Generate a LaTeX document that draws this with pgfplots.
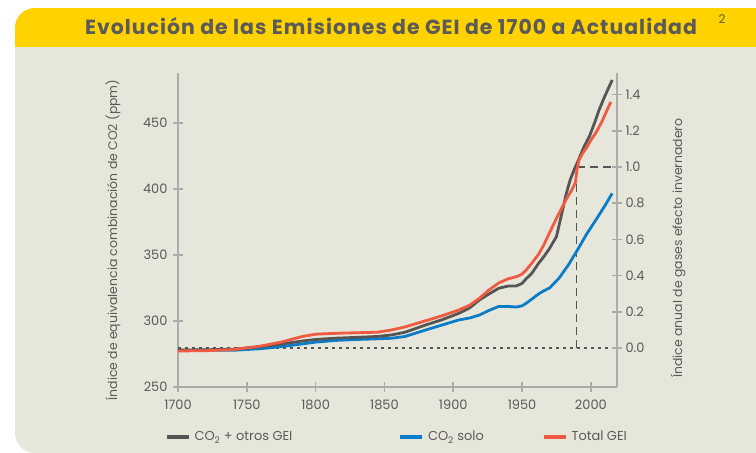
\documentclass[border=0pt]{standalone}
\usepackage{fontspec}
\setmainfont{Poppins}
\newfontfamily\titlefont[LetterSpace=5]{Poppins}
\usepackage{pgfplots}
\pgfplotsset{compat=1.18}
\definecolor{hdr}{HTML}{FFD200}
\definecolor{panel}{HTML}{E7E6DB}
\definecolor{axgray}{HTML}{ABABAB}
\definecolor{txtgray}{HTML}{5A5A5A}
\definecolor{cgray}{HTML}{555555}
\definecolor{cblue}{HTML}{0B7DC8}
\definecolor{cred}{HTML}{EF5A40}
\begin{document}
\begin{tikzpicture}[x=1bp,y=1bp]
\useasboundingbox (0,0) rectangle (756,453);
\begin{scope}
\clip (0,0) rectangle (756,453);
\fill[white] (0,0) rectangle (756,453);
\fill[panel, rounded corners=20bp] (15,0) rectangle (800,445);
\begin{scope}
\clip[rounded corners=20bp] (15,0) rectangle (800,445);
\fill[hdr] (0,406) rectangle (800,445);
\end{scope}
\end{scope}
\node[font=\titlefont\bfseries\fontsize{20.5}{23}\selectfont, text=txtgray] at (391,427) {Evolución de las Emisiones de GEI de 1700 a Actualidad};
\node[font=\fontsize{12}{14}\selectfont, text=txtgray] at (722,434) {2};
\node[rotate=90, font=\fontsize{12.5}{14}\selectfont, text=txtgray] at (113,213) {Índice de equivalencia combinación de CO2 (ppm)};
\node[rotate=90, font=\fontsize{12.5}{14}\selectfont, text=txtgray] at (678,205) {Índice anual de gases efecto invernadero};

\begin{axis}[
  at={(178bp,66bp)}, anchor=south west, scale only axis,
  width=439bp, height=314bp,
  xmin=1700, xmax=2019, ymin=250, ymax=487.9,
  axis x line=bottom, axis y line=left,
  axis line style={-, axgray, line width=1.5bp},
  xtick={1700,1750,1800,1850,1900,1950,2000},
  ytick={250,300,350,400,450},
  tick style={axgray, line width=1.5bp}, major tick length=10bp, tick align=center,
  tick label style={font=\fontsize{13}{15}\selectfont, text=txtgray},
  /pgf/number format/assume math mode=true,
  xticklabel style={/pgf/number format/1000 sep={}, yshift=-4bp},
  yticklabel style={xshift=-2bp},
  clip=false,
  legend columns=3,
  legend style={at={(-0.03,-0.159)}, anchor=west, draw=none, fill=none,
    inner sep=0pt, font=\fontsize{13}{15}\selectfont, text=txtgray,
    nodes={inner xsep=4bp, inner ysep=1bp}},
  legend image code/.code={\draw[#1, line width=3.5bp] (0bp,0bp) -- (22bp,0bp);},
]
\addlegendimage{cgray}
\addlegendentry{\makebox[200bp][l]{CO\textsubscript{2} + otros GEI}}
\addlegendimage{cblue}
\addlegendentry{\makebox[110bp][l]{CO\textsubscript{2} solo}}
\addlegendimage{cred}
\addlegendentry{Total GEI}

\addplot[forget plot, cgray, line width=1.5bp, dash pattern=on 3bp off 4bp] coordinates {(1700,279.5) (2019,279.5)};
\addplot[forget plot, cgray, line width=1.8bp, dash pattern=on 8bp off 5bp] coordinates {(1989.5,279.5) (1989.5,416.7) (2019,416.7)};

\addplot[forget plot, cblue, line width=2.8bp, line join=round] coordinates {
(1700,277.8) (1720,277.8) (1740,277.8) (1760,279) (1775,280.6) (1790,282.6) (1800,284)
(1815,285.3) (1830,286) (1845,286.5) (1855,286.9) (1865,288.3) (1880,293.2) (1892,297)
(1904,300.8) (1912,302.3) (1919,304.5) (1926,308) (1933,311) (1940,311) (1946,310.6)
(1950,311.5) (1953,313.4) (1957,316.5) (1962,320.5) (1966,323) (1970,325) (1977,332.6)
(1984,343) (1991,355.1) (1997,366) (2003.6,376.5) (2010,387) (2015.5,396.7)};

\addplot[forget plot, cgray, line width=2.8bp, line join=round] coordinates {
(1700,278) (1720,278.2) (1740,278.6) (1760,280.5) (1775,282.5) (1790,284.8) (1800,286)
(1815,287) (1830,287.6) (1845,288.3) (1855,289.4) (1865,291.5) (1880,297) (1892,301)
(1904,305.8) (1912,310) (1919,315.9) (1926,320.5) (1933,324.8) (1940,326.5) (1946,326.6)
(1950,328.5) (1953,332) (1957,336) (1962,343.7) (1966,349) (1970,355) (1975,364)
(1979,382) (1982,396) (1985,407) (1988,415) (1991,422) (1995,432) (1999,440)
(2003,451) (2006,460) (2010,470) (2015.5,482.6)};

\addplot[forget plot, cred, line width=2.8bp, line join=round] coordinates {
(1700,277.3) (1720,277.5) (1740,278.3) (1760,281) (1775,284) (1790,288.2) (1800,290)
(1815,290.7) (1830,291.1) (1845,291.5) (1855,293.2) (1865,295.5) (1880,300.2) (1892,304)
(1904,308.3) (1912,312) (1919,317.2) (1926,323.5) (1933,328.8) (1940,332) (1946,333.6)
(1950,335.5) (1953,338.6) (1957,343.7) (1962,350.5) (1966,358) (1970,367) (1975.6,379)
(1982,392) (1986,399) (1988.8,405) (1989.8,414) (1991.4,422) (1994,427) (1997,431.5)
(2000,437) (2003.6,442.5) (2008,451) (2011,458) (2014.5,466)};
\end{axis}

\begin{axis}[
  at={(178bp,66bp)}, anchor=south west, scale only axis,
  width=439bp, height=314bp,
  xmin=1700, xmax=2019, ymin=-0.215, ymax=1.519,
  axis x line=none, axis y line=right,
  axis line style={-, axgray, line width=1.5bp},
  ytick={0,0.2,0.4,0.6,0.8,1.0,1.2,1.4},
  tick style={axgray, line width=1.5bp}, major tick length=10bp, tick align=center,
  tick label style={font=\fontsize{13}{15}\selectfont, text=txtgray},
  /pgf/number format/assume math mode=true,
  yticklabel style={/pgf/number format/.cd, fixed, fixed zerofill, precision=1},
]
\addplot[draw=none] coordinates {(1700,0) (2019,1)};
\end{axis}
\end{tikzpicture}
\end{document}
